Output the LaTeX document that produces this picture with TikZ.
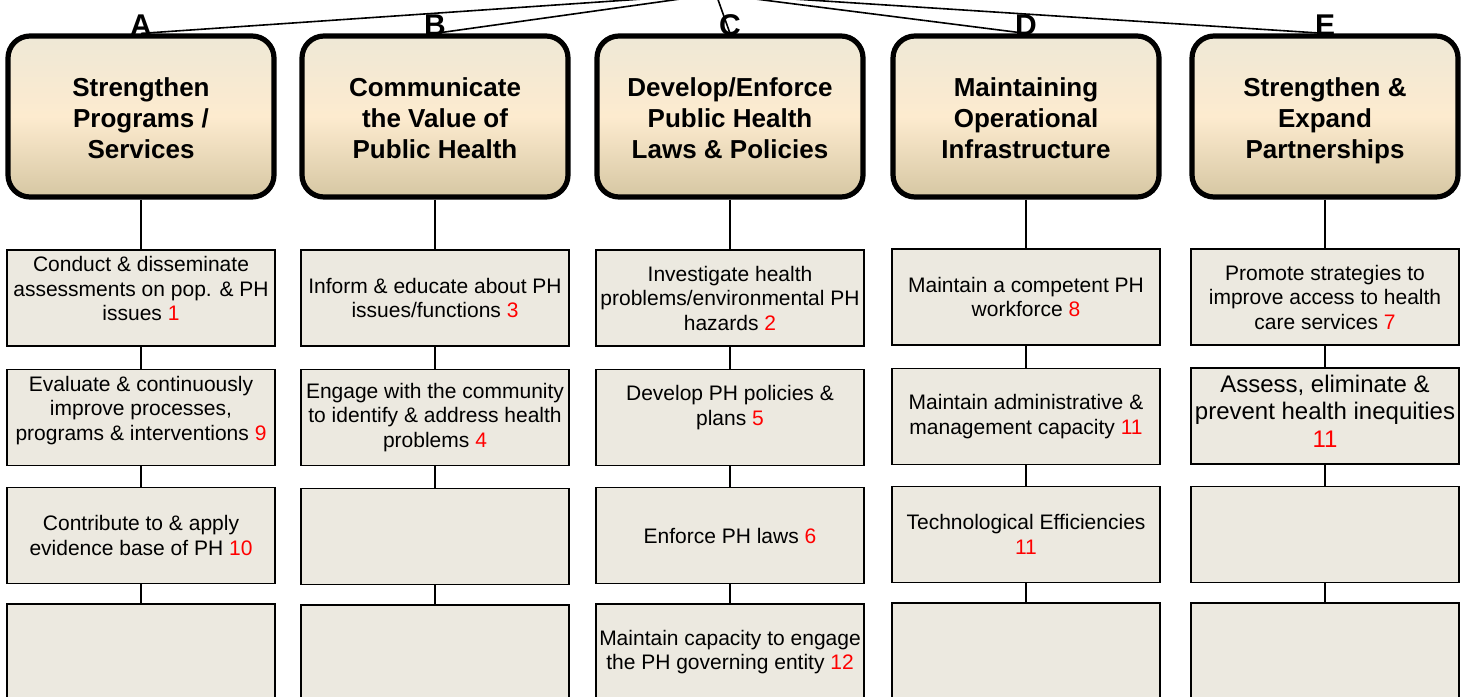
\documentclass[tikz,border=0pt]{standalone}
\usepackage{fontspec}
\setmainfont{Liberation Sans}
\usetikzlibrary{positioning,calc}
\definecolor{headtop}{HTML}{EEE8D6}
\definecolor{headmid}{HTML}{FDEBCF}
\definecolor{headbot}{HTML}{D6C7A3}
\definecolor{taskfill}{HTML}{ECE9E0}
\definecolor{numred}{HTML}{FF0000}
\tikzset{
	headbox/.style={draw=black, line width=2.6pt, rounded corners=11pt, top color=headtop, bottom color=headbot, middle color=headmid, minimum width=133pt, minimum height=80.5pt},
	headtext/.style={align=center, inner sep=0pt, font=\fontsize{13}{15.5}\selectfont\bfseries},
	taskbox/.style={draw=black, line width=0.7pt, fill=taskfill, minimum width=134pt, minimum height=48pt, align=center, inner sep=1pt, font=\fontsize{10.5}{12.25}\selectfont},
	letter/.style={anchor=base, inner sep=0pt, font=\fontsize{15}{16}\selectfont\bfseries},
	link/.style={draw=black, line width=0.8pt},
}
\newcommand{\num}[1]{\textcolor{numred}{#1}}

\begin{document}
\begin{tikzpicture}[x=0.5pt, y=-0.5pt]

	\useasboundingbox (0,0) rectangle (1466,696);

	\coordinate (root) at (716,-6);

	% goal boxes
	\node (hA) [headbox] at (141,116.5) {};
	\node (hB) [headbox] at (435,116.5) {};
	\node (hC) [headbox] at (730,116.5) {};
	\node (hD) [headbox] at (1026,116.5) {};
	\node (hE) [headbox] at (1325,116.5) {};

	\node (hA-text) [headtext] at (141,118.5) {Strengthen\\Programs /\\Services};
	\node (hB-text) [headtext] at (435,118.5) {Communicate\\the Value of\\Public Health};
	\node (hC-text) [headtext] at (730,118.5) {Develop/Enforce\\Public Health\\Laws \& Policies};
	\node (hD-text) [headtext] at (1026,118.5) {Maintaining\\Operational\\Infrastructure};
	\node (hE-text) [headtext] at (1325,120.5) {Strengthen \&\\Expand\\Partnerships};

	\draw[link] (root) -- (hA.north);
	\draw[link] (root) -- (hB.north);
	\draw[link] (root) -- (hC.north);
	\draw[link] (root) -- (hD.north);
	\draw[link] (root) -- (hE.north);

	\node (letterA) [letter] at (141,35) {A};
	\node (letterB) [letter] at (435,35) {B};
	\node (letterC) [letter] at (730,35) {C};
	\node (letterD) [letter] at (1026,35) {D};
	\node (letterE) [letter] at (1325,35) {E};

	% column A
	\node (a1) [taskbox] at (141,298) {Conduct \& disseminate\\assessments on pop. \& PH\\issues \num{1}\\[-3pt]~};
	\node (a2) [taskbox] at (141,417.5) {Evaluate \& continuously\\improve processes,\\programs \& interventions \num{9}\\[-3pt]~};
	\node (a3) [taskbox] at (141,535.5) {Contribute to \& apply\\evidence base of PH \num{10}};
	\node (a4) [taskbox] at (141,652) {};

	% column B
	\node (b1) [taskbox] at (435,298) {Inform \& educate about PH\\issues/functions \num{3}};
	\node (b2) [taskbox] at (435,417.5) {Engage with the community\\to identify \& address health\\problems \num{4}};
	\node (b3) [taskbox] at (435,536.5) {};
	\node (b4) [taskbox] at (435,653) {};

	% column C
	\node (c1) [taskbox] at (730,298) {Investigate health\\problems/environmental PH\\hazards \num{2}};
	\node (c2) [taskbox] at (730,417.5) {Develop PH policies \&\\plans \num{5}\\~};
	\node (c3) [taskbox] at (730,535.5) {Enforce PH laws \num{6}};
	\node (c4) [taskbox] at (730,652) {Maintain capacity to engage\\the PH governing entity \num{12}};

	% column D
	\node (d1) [taskbox] at (1026,297) {Maintain a competent PH\\workforce \num{8}};
	\node (d2) [taskbox] at (1026,416.5) {Maintain administrative \&\\management capacity \num{11}};
	\node (d3) [taskbox] at (1026,534.5) {Technological Efficiencies\\\num{11}};
	\node (d4) [taskbox] at (1026,651) {};

	% column E
	\node (e1) [taskbox] at (1325,297) {Promote strategies to\\improve access to health\\care services \num{7}};
	\node (e2) [taskbox, font=\fontsize{12}{13.75}\selectfont] at (1325,416) {Assess, eliminate \&\\prevent health inequities\\\num{11}\\[-9pt]~};
	\node (e3) [taskbox] at (1325,534.5) {};
	\node (e4) [taskbox] at (1325,651) {};

	% connectors
	\draw[link] (hA) -- (a1);
	\draw[link] (a1) -- (a2);
	\draw[link] (a2) -- (a3);
	\draw[link] (a3) -- (a4);

	\draw[link] (hB) -- (b1);
	\draw[link] (b1) -- (b2);
	\draw[link] (b2) -- (b3);
	\draw[link] (b3) -- (b4);

	\draw[link] (hC) -- (c1);
	\draw[link] (c1) -- (c2);
	\draw[link] (c2) -- (c3);
	\draw[link] (c3) -- (c4);

	\draw[link] (hD) -- (d1);
	\draw[link] (d1) -- (d2);
	\draw[link] (d2) -- (d3);
	\draw[link] (d3) -- (d4);

	\draw[link] (hE) -- (e1);
	\draw[link] (e1) -- (e2);
	\draw[link] (e2) -- (e3);
	\draw[link] (e3) -- (e4);

\end{tikzpicture}
\end{document}
